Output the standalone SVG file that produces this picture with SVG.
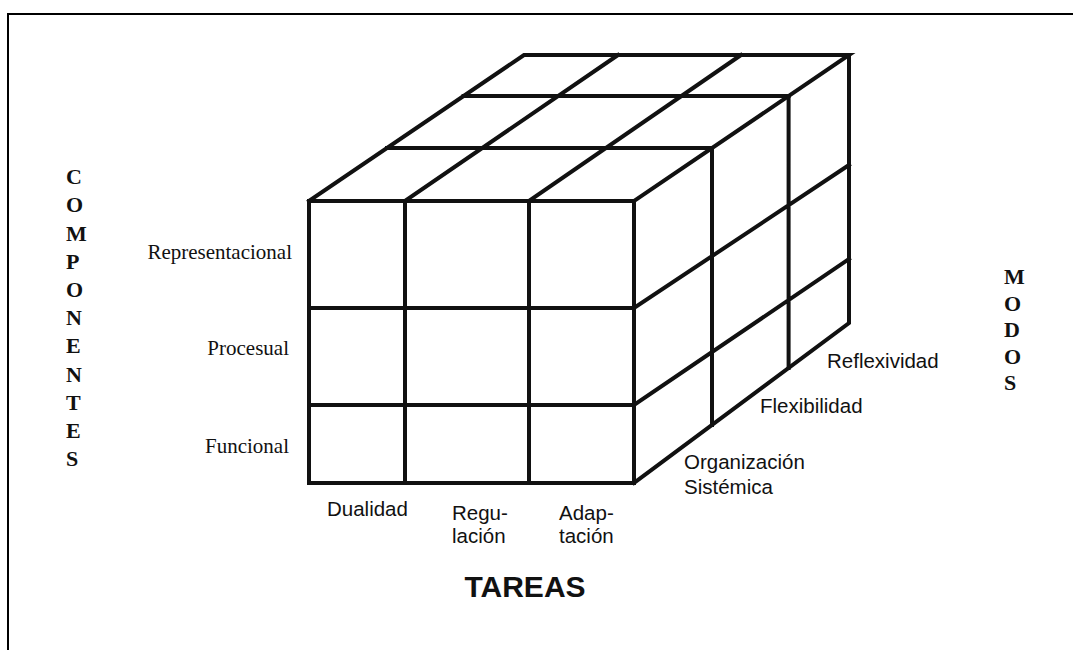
<svg xmlns="http://www.w3.org/2000/svg" width="1073" height="650" viewBox="0 0 1073 650">
  <style>
    .frame { fill: none; stroke: #000; stroke-width: 2; }
    .edge { fill: none; stroke: #111; stroke-width: 4; stroke-linecap: square; stroke-linejoin: miter; }
    .serif { font-family: "Liberation Serif", "Times New Roman", serif; font-size: 21px; fill: #111; }
    .axis { font-family: "Liberation Serif", "Times New Roman", serif; font-size: 22px; font-weight: bold; fill: #111; }
    .sans { font-family: "Liberation Sans", Arial, sans-serif; font-size: 20.5px; fill: #111; }
    .title { font-family: "Liberation Sans", Arial, sans-serif; font-size: 30px; font-weight: bold; fill: #111; }
  </style>
  <rect width="1073" height="650" fill="#fff"/>
  <path class="frame" d="M8,652 V14 H1075"/>

  <g id="cube">
    <g id="front-face">
      <rect class="edge" x="309" y="201" width="325" height="282"/>
      <path class="edge" d="M405,201 V483 M529,201 V483 M309,308 H634 M309,405 H634"/>
    </g>
    <g id="top-face">
      <path class="edge" d="M309,201 L524,55 H849 L634,201"/>
      <path class="edge" d="M405,201 L618,55 M529,201 L741,55 M387,148 H712 M463.6,96 H788.6"/>
    </g>
    <g id="side-face">
      <path class="edge" d="M849,55 V323 L634,483"/>
      <path class="edge" d="M712,148 V425 M788.6,96 V368 M634,308 L849,165 M634,405 L849,259"/>
    </g>
  </g>

  <g id="componentes-axis">
    <text class="axis" x="66" y="184">C</text>
    <text class="axis" x="66" y="212">O</text>
    <text class="axis" x="66" y="240.5">M</text>
    <text class="axis" x="66" y="268.5">P</text>
    <text class="axis" x="66" y="297">O</text>
    <text class="axis" x="66" y="325">N</text>
    <text class="axis" x="66" y="353">E</text>
    <text class="axis" x="66" y="381.5">N</text>
    <text class="axis" x="66" y="409.5">T</text>
    <text class="axis" x="66" y="438">E</text>
    <text class="axis" x="66" y="466">S</text>
  </g>

  <g id="componentes-labels">
    <text class="serif" x="292" y="259" text-anchor="end">Representacional</text>
    <text class="serif" x="289" y="355" text-anchor="end">Procesual</text>
    <text class="serif" x="289" y="453" text-anchor="end">Funcional</text>
  </g>

  <g id="modos-axis">
    <text class="axis" x="1004" y="284">M</text>
    <text class="axis" x="1004" y="310.5">O</text>
    <text class="axis" x="1004" y="337">D</text>
    <text class="axis" x="1004" y="363.5">O</text>
    <text class="axis" x="1004" y="390">S</text>
  </g>

  <g id="modos-labels">
    <text class="sans" x="827" y="368">Reflexividad</text>
    <text class="sans" x="760" y="413">Flexibilidad</text>
    <text class="sans" x="684" y="469">Organización</text>
    <text class="sans" x="684" y="494">Sistémica</text>
  </g>

  <g id="tareas-labels">
    <text class="sans" x="327" y="516">Dualidad</text>
    <text class="sans" x="452" y="520">Regu-</text>
    <text class="sans" x="452" y="543">lación</text>
    <text class="sans" x="559" y="520">Adap-</text>
    <text class="sans" x="559" y="543">tación</text>
  </g>

  <g id="tareas-title">
    <text class="title" x="525" y="597" text-anchor="middle">TAREAS</text>
  </g>
</svg>
